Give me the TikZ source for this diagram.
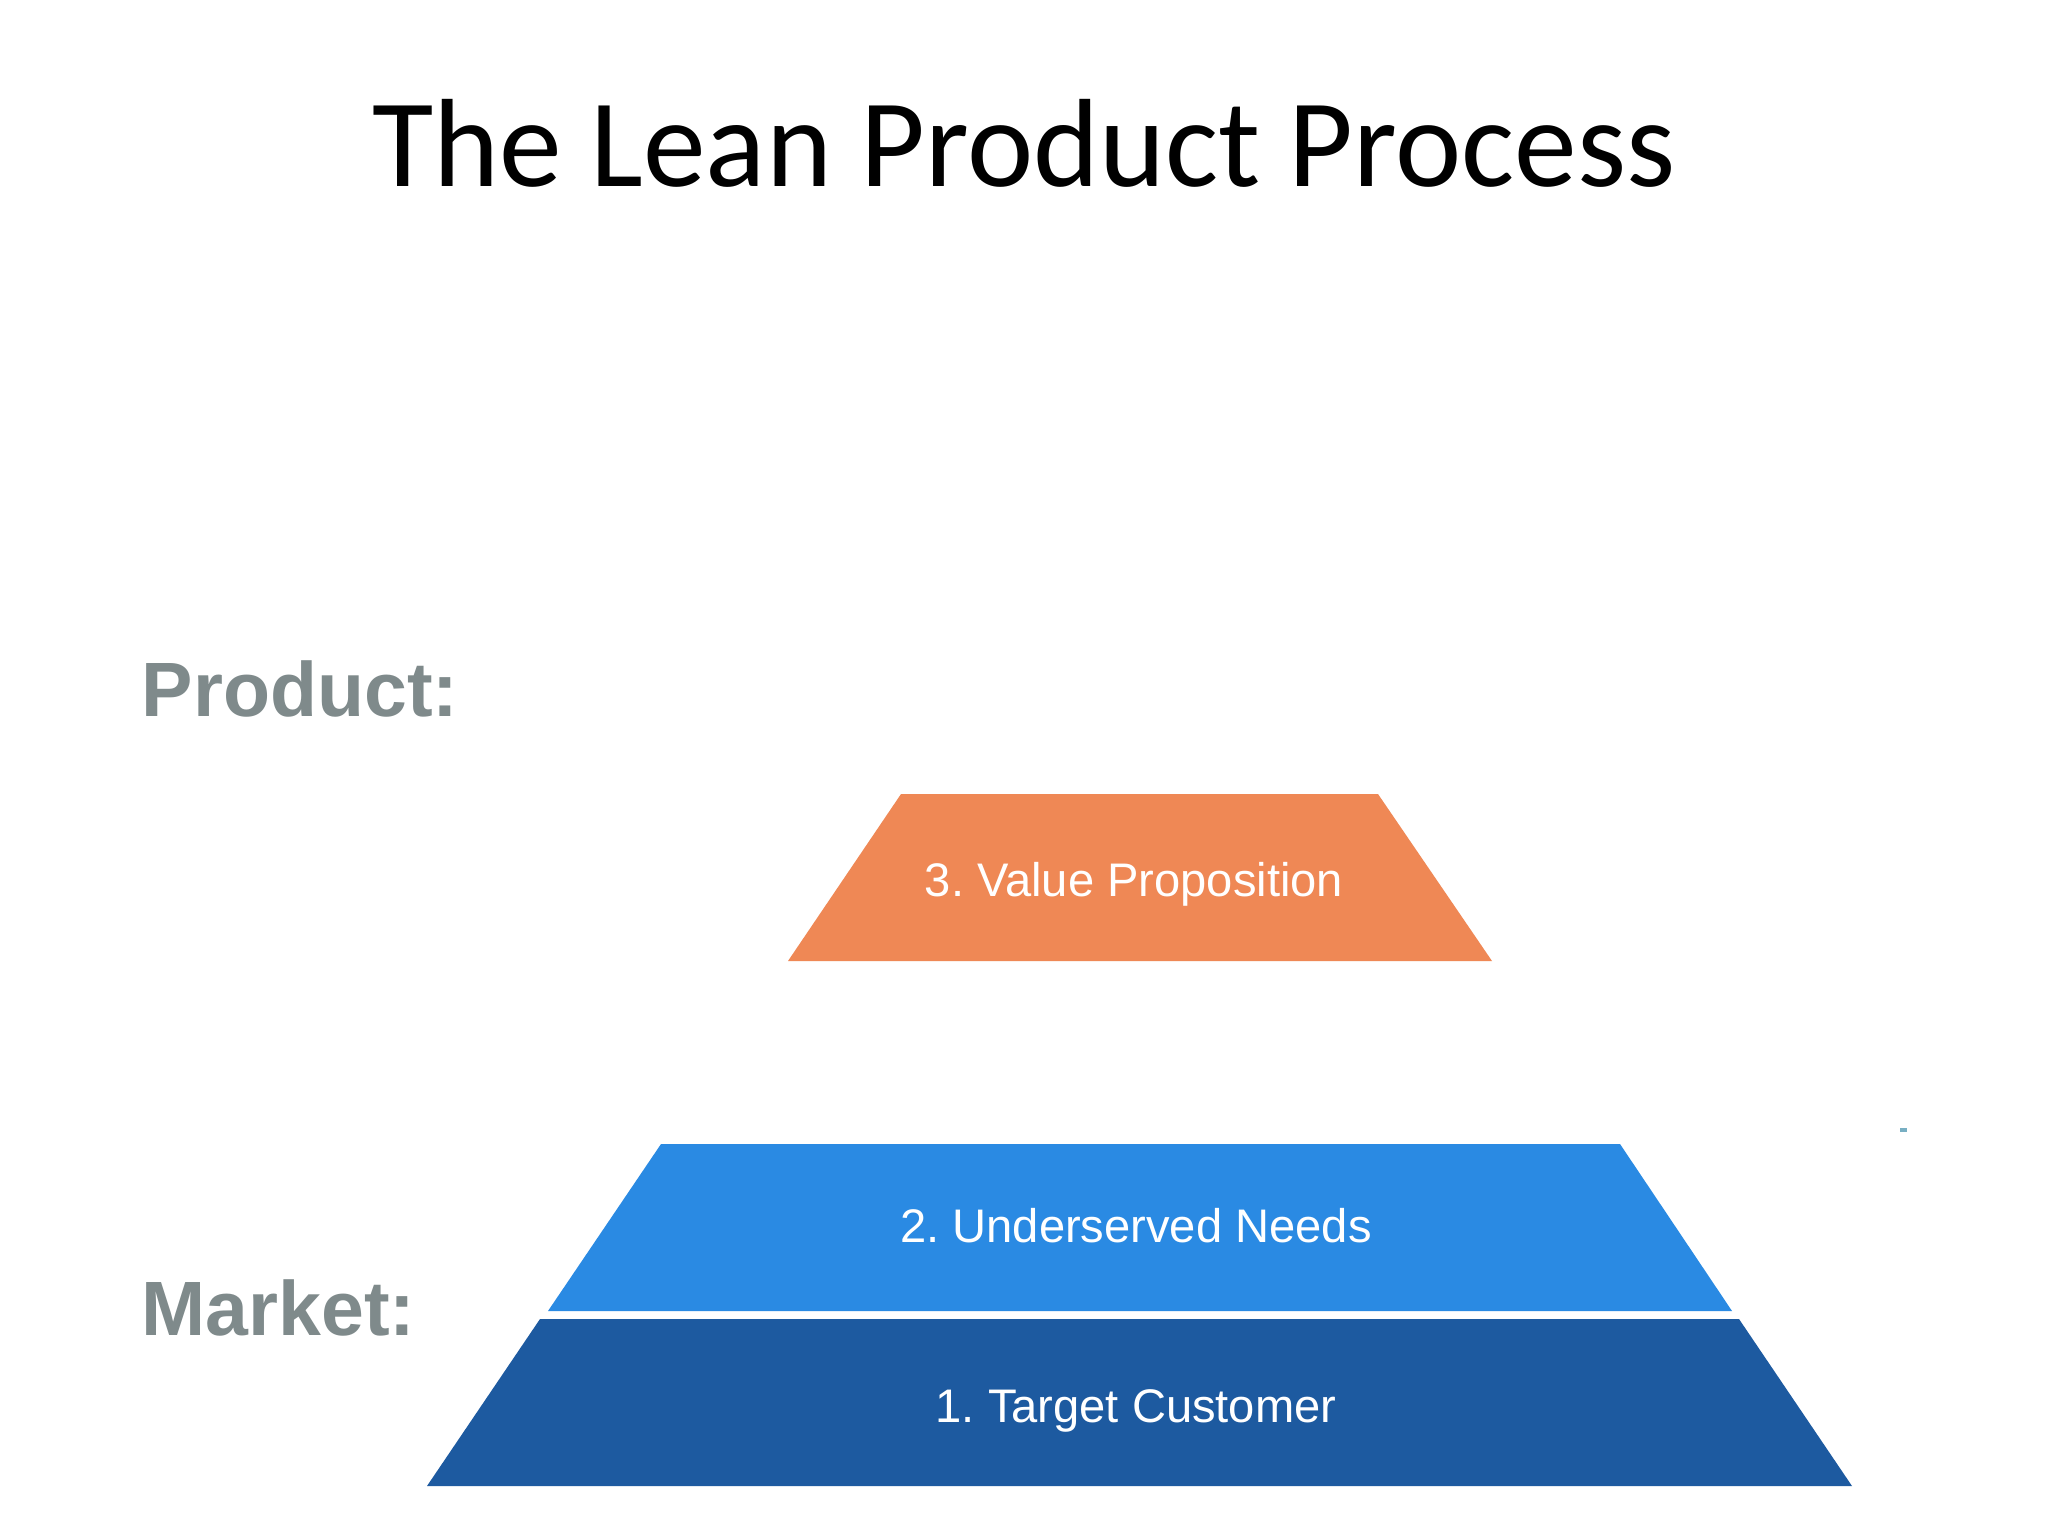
\documentclass[tikz,border=0pt]{standalone}
\usepackage{fontspec}
\setmainfont{Liberation Sans}
\newfontfamily\titlefont{Carlito}
\frenchspacing
\definecolor{labelgray}{RGB}{127,138,139}
\definecolor{vporange}{RGB}{239,136,85}
\definecolor{needblue}{RGB}{42,138,227}
\definecolor{custblue}{RGB}{29,90,160}
\definecolor{speckteal}{RGB}{120,175,195}
\begin{document}
\begin{tikzpicture}[x=0.01cm,y=-0.01cm,
  sidelabel/.style={anchor=base west,inner sep=0pt,text=labelgray,font=\fontsize{21.9pt}{26pt}\selectfont\bfseries},
  layertext/.style={anchor=base,inner sep=0pt,text=white,font=\fontsize{13.4pt}{16pt}\selectfont},
  layer/.style={draw=none}]
\useasboundingbox (0,0) rectangle (2048,1536);
\fill[white] (0,0) rectangle (2048,1536);
\node[anchor=base,inner sep=0pt,font=\titlefont\fontsize{35.7pt}{40pt}\selectfont] (title) at (1024,186) {The Lean Product Process};
\node[sidelabel] (product) at (141,716) {Product:};
\node[sidelabel] (market) at (141,1335) {Market:};
\fill[layer,vporange] (901,794) -- (1378,794) -- (1492,961) -- (788,961) -- cycle;
\fill[layer,needblue] (661,1144) -- (1620,1144) -- (1732,1311) -- (548,1311) -- cycle;
\fill[layer,custblue] (540,1319) -- (1739,1319) -- (1852,1486) -- (427,1486) -- cycle;
\node[layertext] (vp) at (1134,896) {3. Value Proposition};
\node[layertext] (needs) at (1136,1242) {2. Underserved Needs};
\node[layertext] (cust) at (1136,1422) {1. Target Customer};
\coordinate (speckA) at (1900,1130);
\coordinate (speckB) at (1907,1130);
\draw[speckteal,line width=1.2pt] (speckA) -- (speckB);
\end{tikzpicture}
\end{document}
